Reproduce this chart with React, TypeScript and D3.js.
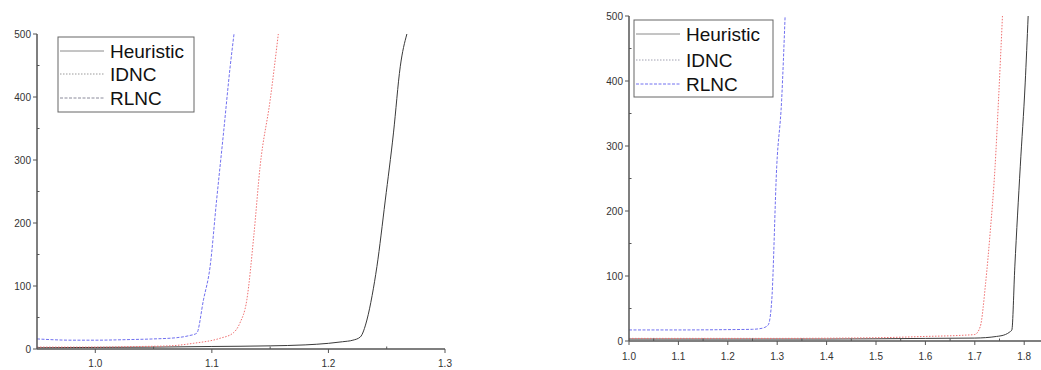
import React, { useRef, useEffect } from 'react';
import * as d3 from 'd3';

// series names and legend
const seriesNames = ['Heuristic', 'IDNC', 'RLNC'];

// left panel, values
const leftHeuristicX = [0.95, 1.0, 1.05, 1.1, 1.15, 1.18, 1.2, 1.212, 1.221, 1.2273, 1.233, 1.2375, 1.2416, 1.2487, 1.2558, 1.2616, 1.2673];
const leftHeuristicY = [2, 2.5, 3, 4, 5, 6.5, 9, 11.5, 14, 19, 46, 85, 131, 235, 343, 448, 500];
const leftIdncX = [0.95, 1.0, 1.04, 1.064, 1.084, 1.107, 1.118, 1.124, 1.13, 1.136, 1.1414, 1.15, 1.157];
const leftIdncY = [3, 3, 4, 5, 9, 17, 25, 41, 78, 180, 290, 395, 500];
const leftRlncX = [0.95, 0.98, 1.0, 1.03, 1.05, 1.07, 1.08, 1.087, 1.0928, 1.0985, 1.104, 1.11, 1.1157, 1.119];
const leftRlncY = [16, 14, 14, 15, 16, 18, 21, 25, 78, 131, 235, 343, 448, 500];
const leftXTicks = [1.0, 1.1, 1.2, 1.3];
const leftXMinor = [1.05, 1.15, 1.25];

// right panel
const rightHeuristicX = [1.0, 1.2, 1.4, 1.6, 1.7, 1.744, 1.762, 1.771, 1.775, 1.781, 1.792, 1.802, 1.808];
const rightHeuristicY = [3, 3, 3, 4, 4.5, 7, 10, 14, 17, 114, 268, 397, 500];
const rightIdncX = [1.0, 1.3, 1.5, 1.6, 1.68, 1.7, 1.711, 1.722, 1.731, 1.741, 1.748, 1.756];
const rightIdncY = [4, 4, 5, 7, 9, 10, 22, 90, 166, 268, 371, 500];
const rightRlncX = [1.0, 1.1, 1.2, 1.25, 1.265, 1.275, 1.282, 1.289, 1.299, 1.309, 1.316];
const rightRlncY = [17, 17, 17.5, 18, 19, 21, 25, 63, 268, 371, 500];
const rightXTicks = [1.0, 1.1, 1.2, 1.3, 1.4, 1.5, 1.6, 1.7, 1.8];
const rightXMinor = [1.05, 1.15, 1.25, 1.35, 1.45, 1.55, 1.65, 1.75];

const yTicks = [0, 100, 200, 300, 400, 500];
const yMinor = [50, 150, 250, 350, 450];

const styles = [
  { stroke: '#3a3a3a', dash: null },
  { stroke: '#f07070', dash: '1.5,1.5' },
  { stroke: '#7070f0', dash: '3,1.5' },
];

const FONT = 'Liberation Sans, Arial, sans-serif';

const Panel = (props) => {
  const gRef = useRef(null);

  useEffect(() => {
    const g = d3.select(gRef.current);
    g.selectAll('*').remove();
    const x = d3.scaleLinear().domain(props.xDomain).range(props.xRange);
    const y = d3.scaleLinear().domain([0, 500]).range(props.yRange);

    const line = d3.line()
      .x((d) => x(d[0]))
      .y((d) => y(d[1]))
      .curve(d3.curveMonotoneX);

    props.series.forEach((s, i) => {
      const pts = s.xs.map((v, k) => [v, s.ys[k]]);
      g.append('path')
        .attr('d', line(pts))
        .attr('fill', 'none')
        .attr('stroke', styles[i].stroke)
        .attr('stroke-width', 1)
        .attr('stroke-dasharray', styles[i].dash);
    });

    // axes
    const axisCol = '#555';
    const x0 = props.xRange[0], y0 = props.yRange[0];
    g.append('line').attr('x1', x0).attr('x2', x0).attr('y1', y0).attr('y2', props.yRange[1])
      .attr('stroke', axisCol).attr('stroke-width', 1.5);
    g.append('line').attr('x1', x0).attr('x2', props.xRange[1]).attr('y1', y0).attr('y2', y0)
      .attr('stroke', axisCol).attr('stroke-width', 1.5);

    yTicks.forEach((t) => {
      g.append('line').attr('x1', x0 - 4).attr('x2', x0).attr('y1', y(t)).attr('y2', y(t))
        .attr('stroke', axisCol);
      g.append('text').attr('x', x0 - 6).attr('y', y(t) + 3.5)
        .attr('text-anchor', 'end').attr('font-size', 10).attr('font-family', FONT)
        .attr('fill', '#333').text(t);
    });
    yMinor.forEach((t) => {
      g.append('line').attr('x1', x0).attr('x2', x0 + 2.5).attr('y1', y(t)).attr('y2', y(t))
        .attr('stroke', axisCol);
    });
    props.xTicks.forEach((t) => {
      g.append('line').attr('x1', x(t)).attr('x2', x(t)).attr('y1', y0).attr('y2', y0 + 4)
        .attr('stroke', axisCol);
      g.append('text').attr('x', x(t)).attr('y', y0 + props.labelGap)
        .attr('text-anchor', 'middle').attr('font-size', 10).attr('font-family', FONT)
        .attr('fill', '#333').text(d3.format('.1f')(t));
    });
    props.xMinor.forEach((t) => {
      g.append('line').attr('x1', x(t)).attr('x2', x(t)).attr('y1', y0).attr('y2', y0 - 2.5)
        .attr('stroke', axisCol);
    });

    // legend
    const lg = props.legend;
    g.append('rect').attr('x', lg.x).attr('y', lg.y).attr('width', lg.w).attr('height', lg.h)
      .attr('fill', 'white').attr('stroke', '#666').attr('stroke-width', 1);
    seriesNames.forEach((name, i) => {
      const cy = lg.y + lg.rows[i];
      g.append('line').attr('x1', lg.x + 2).attr('x2', lg.x + 46).attr('y1', cy).attr('y2', cy)
        .attr('stroke', lg.colors[i]).attr('stroke-width', 1)
        .attr('stroke-dasharray', styles[i].dash);
      g.append('text').attr('x', lg.x + 52).attr('y', cy + 6.5)
        .attr('font-size', 19).attr('font-family', FONT).attr('fill', '#111').text(name);
    });
  }, []);

  return <g ref={gRef} />;
};

const App = () => {
  return (
    <svg width={1041} height={370} style={{ position: 'absolute', left: 0, top: 0, background: 'white' }}>
      <Panel
        xDomain={[0.95, 1.3]}
        xRange={[37, 445]}
        yRange={[349, 34]}
        xTicks={leftXTicks}
        xMinor={leftXMinor}
        labelGap={18}
        series={[
          { xs: leftHeuristicX, ys: leftHeuristicY },
          { xs: leftIdncX, ys: leftIdncY },
          { xs: leftRlncX, ys: leftRlncY },
        ]}
        legend={{ x: 58, y: 37, w: 136, h: 75, rows: [14, 37, 61], colors: ['#8a8a8a', '#9a9a9a', '#8a8a9a'] }}
      />
      <Panel
        xDomain={[1.0, 1.834]}
        xRange={[629, 1041]}
        yRange={[341, 16]}
        xTicks={rightXTicks}
        xMinor={rightXMinor}
        labelGap={19}
        series={[
          { xs: rightHeuristicX, ys: rightHeuristicY },
          { xs: rightIdncX, ys: rightIdncY },
          { xs: rightRlncX, ys: rightRlncY },
        ]}
        legend={{ x: 634, y: 20, w: 139, h: 77, rows: [14, 40, 64], colors: ['#8a8a8a', '#a0a0b0', '#7070f0'] }}
      />
    </svg>
  );
};

export default App;
